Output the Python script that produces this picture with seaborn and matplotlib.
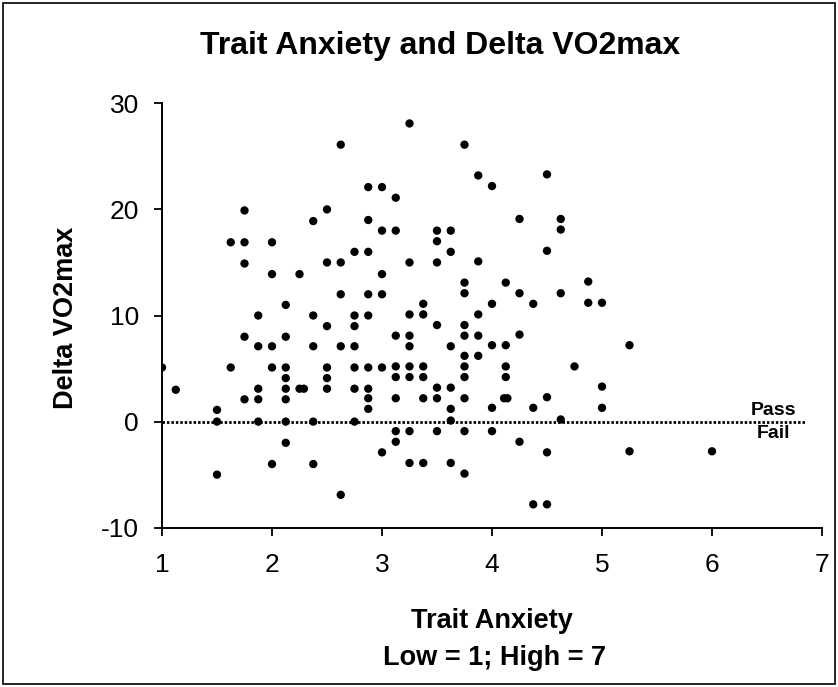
import matplotlib
matplotlib.use("Agg")
import matplotlib.pyplot as plt
import seaborn as sns
import pandas as pd
from matplotlib.patches import Rectangle

# ---- data ----
trait_anxiety = [
    2.625, 2.875, 3.0, 1.75, 2.5, 2.375, 2.875, 3.0, 1.625, 1.75, 2.0, 2.75, 2.875,
    1.75, 2.5, 2.625, 2.0, 2.25, 3.0, 2.625, 2.875, 3.0, 2.125, 1.875, 2.375, 2.75, 2.875,
    3.25, 3.75, 3.875, 4.5, 4.0, 3.125, 4.25, 4.625, 4.625, 3.125, 3.5, 3.625, 3.5,
    3.625, 4.5, 3.25, 3.5, 3.875, 3.75, 4.125, 4.875, 3.75, 4.25, 4.625, 3.375, 4.0,
    4.375, 4.875, 5.0, 3.25, 3.375, 3.875,
    2.5, 2.75, 1.75, 2.125, 1.875, 2.0, 2.375, 2.625, 2.75, 1.0, 1.625, 2.0, 2.125,
    2.5, 2.75, 2.875, 3.0, 2.125, 2.5, 1.125, 1.875, 2.125, 2.25, 2.29, 2.5, 2.75,
    2.875, 1.75, 1.875, 2.125, 2.875, 1.5, 2.875, 1.5, 1.875, 2.125, 2.375, 2.75,
    2.125, 3.0, 2.0, 2.375, 1.5, 2.625,
    3.5, 3.75, 3.125, 3.25, 3.75, 3.875, 4.25, 3.25, 3.625, 4.0, 4.125, 3.75, 3.875,
    3.125, 3.25, 3.375, 3.75, 4.125, 4.75, 3.125, 3.25, 3.375, 3.75, 4.125, 3.5,
    3.625, 5.0, 3.125, 3.375, 3.5, 3.75, 4.11, 4.14, 4.5, 3.625, 4.0, 4.375, 5.0,
    3.625, 4.625, 3.125, 3.25, 3.5, 3.75, 4.0, 3.125, 4.25, 4.5, 3.25, 3.375, 3.625,
    3.75, 4.375, 4.5,
    5.25, 5.25, 6.0,
]
delta_vo2max = [
    26.1, 22.1, 22.1, 19.9, 20.0, 18.9, 19.0, 18.0, 16.9, 16.9, 16.9, 16.0, 16.0,
    14.9, 15.0, 15.0, 13.9, 13.9, 13.9, 12.0, 12.0, 12.0, 11.0, 10.0, 10.0, 10.0, 10.0,
    28.1, 26.1, 23.2, 23.3, 22.2, 21.1, 19.1, 19.1, 18.1, 18.0, 18.0, 18.0, 17.0,
    16.0, 16.1, 15.0, 15.0, 15.1, 13.1, 13.1, 13.2, 12.1, 12.1, 12.1, 11.1, 11.1,
    11.1, 11.2, 11.2, 10.1, 10.1, 10.1,
    9.0, 9.0, 8.0, 8.0, 7.1, 7.1, 7.1, 7.1, 7.1, 5.1, 5.1, 5.1, 5.1,
    5.1, 5.1, 5.1, 5.1, 4.1, 4.1, 3.0, 3.1, 3.1, 3.1, 3.1, 3.1, 3.1,
    3.1, 2.1, 2.1, 2.1, 2.2, 1.1, 1.2, 0.0, 0.0, 0.0, 0.0, 0.0,
    -2.0, -2.9, -4.0, -4.0, -5.0, -6.9,
    9.1, 9.1, 8.1, 8.1, 8.1, 8.1, 8.2, 7.1, 7.1, 7.2, 7.2, 6.2, 6.2,
    5.2, 5.2, 5.2, 5.2, 5.2, 5.2, 4.2, 4.2, 4.2, 4.2, 4.2, 3.2,
    3.2, 3.3, 2.2, 2.2, 2.2, 2.2, 2.2, 2.2, 2.3, 1.2, 1.3, 1.3, 1.3,
    0.1, 0.2, -0.9, -0.9, -0.9, -0.9, -0.9, -1.9, -1.9, -2.9, -3.9, -3.9, -3.9,
    -4.9, -7.8, -7.8,
    7.2, -2.8, -2.8,
]
x_ticks = [1, 2, 3, 4, 5, 6, 7]
y_ticks = [-10, 0, 10, 20, 30]
pass_fail_cut = 0
cut_line_x = [1, 6.85]

df = pd.DataFrame({"Trait Anxiety": trait_anxiety, "Delta VO2max": delta_vo2max})

sns.set_theme(style="white")
plt.rcParams["font.family"] = ["Liberation Sans", "DejaVu Sans"]
plt.rcParams["axes.unicode_minus"] = False
plt.rcParams["text.color"] = "black"
plt.rcParams["axes.labelcolor"] = "black"

fig = plt.figure(figsize=(8.38, 6.87), dpi=100)
ax = fig.add_axes([162 / 838, 1 - 527.7 / 687, (822 - 162) / 838, (527.7 - 103.3) / 687])

sns.scatterplot(data=df, x="Trait Anxiety", y="Delta VO2max", ax=ax,
                color="black", s=36, edgecolor="none", linewidth=0, zorder=3)

ax.plot(cut_line_x, [pass_fail_cut, pass_fail_cut], linestyle=(0, (0.9, 0.7)),
        color="black", linewidth=2.0, zorder=2)
ax.text(6.56, 0.6, "Pass", ha="center", va="baseline", fontsize=14,
        fontweight="bold", color="black")
ax.text(6.56, -0.3, "Fail", ha="center", va="top", fontsize=14,
        fontweight="bold", color="black")

ax.set_xlim(1, 7)
ax.set_ylim(-10, 30)
ax.set_xticks(x_ticks)
ax.set_yticks(y_ticks)
ax.set_xticklabels([str(t) for t in x_ticks])
ax.set_yticklabels([str(t) for t in y_ticks])
ax.tick_params(axis="both", direction="out", length=5.5, width=1.3, color="black",
               labelsize=19, labelcolor="black", bottom=True, left=True)
ax.tick_params(axis="x", pad=13)
ax.tick_params(axis="y", pad=11)

for side in ["top", "right"]:
    ax.spines[side].set_visible(False)
for side in ["left", "bottom"]:
    ax.spines[side].set_color("black")
    ax.spines[side].set_linewidth(1.4)

ax.set_xlabel("")
ax.set_ylabel("")

fig.text(66 / 838, 1 - 318 / 687, "Delta VO2max", ha="center", va="center",
         rotation=90, fontsize=19.5, fontweight="bold", color="black")
fig.text(492 / 838, 1 - 621 / 687, "Trait Anxiety", ha="center", va="center",
         fontsize=19.5, fontweight="bold", color="black")
fig.text(495 / 838, 1 - 658 / 687, "Low = 1; High = 7", ha="center", va="center",
         fontsize=19.5, fontweight="bold", color="black")
fig.text(440 / 838, 1 - 46 / 687, "Trait Anxiety and Delta VO2max", ha="center",
         va="center", fontsize=23, fontweight="bold", color="black")

fig.patches.append(Rectangle((0.004, 0.004), 0.992, 0.992, transform=fig.transFigure,
                             fill=False, edgecolor="black", linewidth=1.2))

fig.savefig("out.png", dpi=100)
